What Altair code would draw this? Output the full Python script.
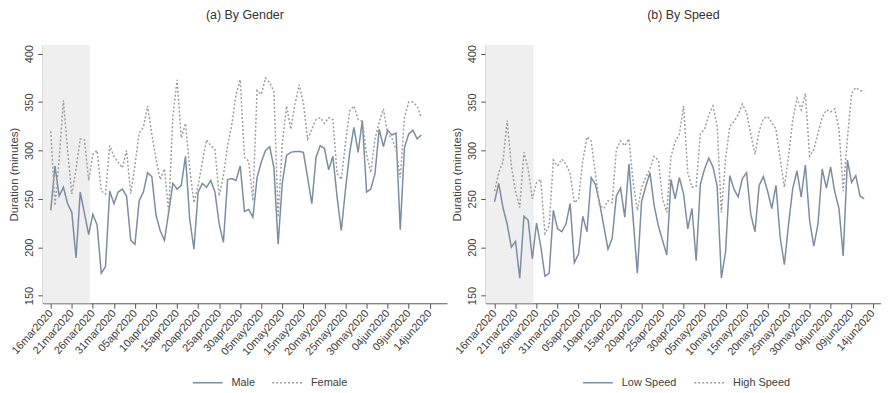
import altair as alt
import pandas as pd

# ---------------- data ----------------
tick_labels = ["16mar2020", "21mar2020", "26mar2020", "31mar2020", "05apr2020",
               "10apr2020", "15apr2020", "20apr2020", "25apr2020", "30apr2020",
               "05may2020", "10may2020", "15may2020", "20may2020", "25may2020",
               "30may2020", "04jun2020", "09jun2020", "14jun2020"]
tick_days = [0, 5, 10, 15, 20, 25, 30, 35, 40, 45, 50, 55, 60, 65, 70, 75, 80, 85, 90]

# day index 0 = 16mar2020 ... 88 = 12jun2020
male = [238, 284, 253, 262, 245, 236, 189, 257, 235, 213,
        234, 223, 173, 180, 258, 245, 257, 260, 253, 207,
        203, 248, 257, 277, 273, 233, 217, 207, 236, 266,
        260, 264, 294, 229, 198, 257, 266, 262, 269, 257,
        224, 205, 270, 271, 269, 284, 237, 239, 231, 272,
        288, 300, 304, 282, 203, 267, 295, 298, 299, 299,
        298, 272, 245, 293, 305, 302, 280, 294, 252, 217,
        260, 298, 324, 298, 331, 257, 260, 276, 322, 304,
        321, 316, 318, 218, 303, 317, 321, 312, 316]
female = [320, 243, 291, 352, 300, 255, 281, 312, 311, 269,
          296, 300, 258, 255, 305, 294, 288, 282, 300, 255,
          285, 318, 324, 346, 317, 291, 270, 281, 236, 335,
          373, 313, 328, 281, 246, 264, 288, 311, 305, 301,
          253, 274, 305, 327, 358, 373, 293, 289, 248, 362,
          358, 375, 370, 361, 231, 308, 346, 322, 348, 368,
          349, 312, 322, 332, 334, 328, 334, 332, 276, 270,
          308, 341, 346, 332, 330, 296, 277, 312, 329, 343,
          317, 313, 301, 272, 334, 350, 350, 346, 334]
low_speed = [247, 266, 241, 224, 200, 206, 168, 232, 228, 188,
             225, 201, 170, 173, 238, 219, 216, 224, 245, 184,
             193, 232, 216, 272, 265, 246, 222, 198, 209, 253,
             261, 231, 286, 229, 173, 247, 263, 277, 243, 222,
             207, 192, 270, 250, 272, 255, 219, 240, 186, 265,
             281, 292, 283, 263, 168, 195, 274, 260, 252, 271,
             277, 234, 216, 264, 273, 258, 240, 264, 210, 182,
             224, 261, 279, 252, 285, 228, 201, 224, 281, 261,
             283, 257, 240, 191, 290, 267, 274, 253, 250]
high_speed = [258, 277, 288, 331, 284, 258, 241, 298, 281, 250,
              267, 270, 214, 222, 290, 284, 291, 286, 276, 246,
              250, 289, 314, 310, 276, 243, 240, 248, 246, 301,
              310, 305, 312, 267, 238, 262, 272, 281, 294, 290,
              250, 236, 294, 309, 317, 346, 277, 262, 263, 317,
              322, 337, 346, 325, 236, 291, 325, 330, 337, 348,
              339, 317, 296, 320, 333, 335, 329, 322, 291, 262,
              294, 332, 354, 342, 359, 294, 301, 318, 334, 342,
              340, 343, 322, 258, 312, 359, 365, 362, 361]

shade_start = -3
shade_end = 9.3

FONT = "Liberation Sans"
SOLID = "#7A8DA3"
DOTTED = "#9E9E9E"
label_expr = "[" + ",".join("'%s'" % t for t in tick_labels) + "][round(datum.value/5)]"


def panel(title, names, s1, s2, xdomain, width, legend_x):
    n = len(s1)
    df = pd.DataFrame({
        "day": list(range(n)) * 2,
        "value": s1 + s2,
        "series": [names[0]] * n + [names[1]] * n,
    })
    shade = pd.DataFrame({"x0": [max(shade_start, xdomain[0])], "x1": [shade_end]})
    xscale = alt.Scale(domain=xdomain, nice=False, zero=False)
    xaxis = alt.Axis(values=tick_days, labelExpr=label_expr, title=None,
                     labelAngle=-48, labelAlign="right", labelBaseline="middle",
                     labelFontSize=11, tickSize=5, labelPadding=3, grid=False,
                     labelOverlap=False)
    yscale = alt.Scale(domain=[142, 409], nice=False, zero=False)
    yaxis = alt.Axis(values=[150, 200, 250, 300, 350, 400], title="Duration (minutes)",
                     labelAngle=-90, labelAlign="center", labelBaseline="bottom",
                     labelFontSize=11, titleFontSize=11.5, titleFontWeight="normal",
                     tickSize=5, labelPadding=3, titlePadding=4, grid=False,
                     labelOverlap=False)
    rect = alt.Chart(shade).mark_rect(color="#EFEFEF").encode(
        x=alt.X("x0:Q", scale=xscale, axis=xaxis),
        x2="x1:Q",
        y=alt.value(0),
        y2=alt.value(260),
    )
    leg = alt.Legend(orient="none", legendX=legend_x, legendY=324, direction="horizontal",
                     title=None, symbolType="stroke", symbolSize=900, symbolStrokeWidth=1.5,
                     labelFontSize=11, labelFont=FONT, columnPadding=14, labelOffset=8)
    lines = alt.Chart(df).mark_line(strokeWidth=1.5).encode(
        x=alt.X("day:Q", scale=xscale, axis=xaxis),
        y=alt.Y("value:Q", scale=yscale, axis=yaxis),
        color=alt.Color("series:N", scale=alt.Scale(domain=names, range=[SOLID, DOTTED]), legend=leg),
        strokeDash=alt.StrokeDash("series:N", scale=alt.Scale(domain=names, range=[[1, 0], [2, 2]]), legend=leg),
        detail="series:N",
    )
    return alt.layer(rect, lines).properties(
        width=width, height=260,
        title=alt.TitleParams(title, fontSize=12.5, font=FONT, fontWeight="normal",
                              color="#333333", anchor="middle", offset=23),
    )


left = panel("(a) By Gender", ["Male", "Female"], male, female, [-1.9, 94.1], 407, 150)
right = panel("(b) By Speed", ["Low Speed", "High Speed"], low_speed, high_speed, [-2.1, 92.0], 398, 97)

chart = alt.hconcat(left, right, spacing=4).resolve_scale(
    color="independent", strokeDash="independent", x="independent", y="independent"
).configure(padding=0).configure_view(stroke=None).configure_axis(
    labelFont=FONT, titleFont=FONT, labelColor="#404040", titleColor="#404040",
    domainColor="#555555", tickColor="#555555", domainWidth=1, tickWidth=1,
).configure_legend(labelColor="#404040")

chart.save("out.html", embed_options={"renderer": "svg", "actions": False})
